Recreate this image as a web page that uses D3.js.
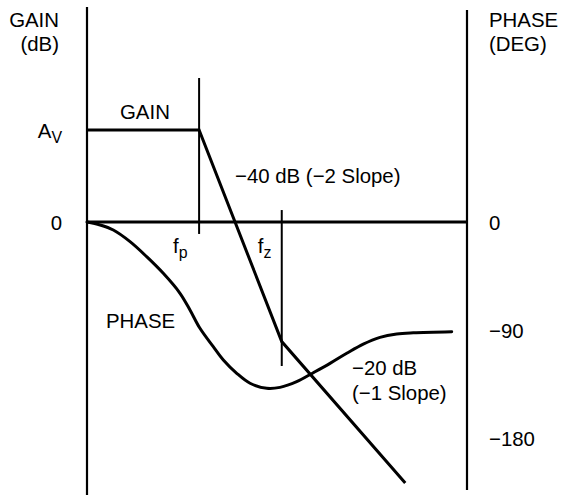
<!DOCTYPE html>
<html>
<head>
<meta charset="utf-8">
<script src="https://cdn.jsdelivr.net/npm/d3@7/dist/d3.min.js"></script>
<style>
  html, body { margin: 0; padding: 0; background: #fff; }
  svg text { font-family: "Liberation Sans", Arial, Helvetica, sans-serif; fill: #000; }
</style>
</head>
<body>
<svg id="chart" width="561" height="495"></svg>
<script>
// ---- Data (log10 frequency in decades, gain in dB, phase in degrees) ----
const AV = 40;                 // mid-band gain (dB), drawn as "A_V"
const fpDec = 1.18;            // pole frequency (decades)
const fzDec = 2.05;            // zero frequency (decades)

// Asymptotic gain curve
const gainFreq = [0, fpDec, fzDec, 3.35];
const gainDb   = [AV, AV, -52, -113.5];

// Phase curve
const phaseFreq = [0, 0.137, 0.277, 0.453, 0.628, 0.803, 0.979, 1.084, 1.189, 1.329, 1.435, 1.576,
                   1.716, 1.892, 2.032, 2.207, 2.382, 2.558, 2.734, 2.908, 3.084, 3.26, 3.435, 3.839];
const phaseDeg  = [0, -2.5, -6.7, -16.4, -28.9, -42.8, -59.4, -73.3, -88.6, -103.9, -115, -126.1,
                   -134.4, -138.6, -137.8, -133.1, -125.6, -117.8, -109.4, -101.7, -96.1, -93.3, -92.3, -91.4];

// Marker extents (dB) for the f_p and f_z tick lines
const fpMarkDb = [62.6, -5.2];
const fzMarkDb = [5.2, -62.6];

// Axis ticks
const gainTickVals   = [0, AV];
const gainTickLabels = ["0", "A_V"];
const phaseTickVals  = [0, -90, -180];
const phaseTickLabels = ["0", "\u221290", "\u2212180"];

// Axis extents
const freqDomain = [0, 4];
const gainAxisDb = [93.5, -120];
const phaseAxisDeg = [176.7, -223.3];

// ---- Scales ----
const svg = d3.select("#chart");
const x = d3.scaleLinear().domain(freqDomain).range([87, 467]);
const yG = d3.scaleLinear().domain([0, AV]).range([222, 130]);
const yP = d3.scaleLinear().domain([0, -180]).range([222, 438]);

const FS = 20.4;

// ---- Axes lines ----
svg.append("line")
  .attr("x1", x(freqDomain[0])).attr("x2", x(freqDomain[0]))
  .attr("y1", yG(gainAxisDb[0])).attr("y2", yG(gainAxisDb[1]))
  .attr("stroke", "#000").attr("stroke-width", 2.2);
svg.append("line")
  .attr("x1", x(freqDomain[1])).attr("x2", x(freqDomain[1]))
  .attr("y1", yP(phaseAxisDeg[0])).attr("y2", yP(phaseAxisDeg[1]))
  .attr("stroke", "#000").attr("stroke-width", 2.2);

// zero line
svg.append("line")
  .attr("x1", x(freqDomain[0])).attr("x2", x(freqDomain[1]))
  .attr("y1", yG(0)).attr("y2", yG(0))
  .attr("stroke", "#000").attr("stroke-width", 3);

// f_p and f_z marker lines
svg.append("line")
  .attr("x1", x(fpDec)).attr("x2", x(fpDec))
  .attr("y1", yG(fpMarkDb[0])).attr("y2", yG(fpMarkDb[1]))
  .attr("stroke", "#000").attr("stroke-width", 2);
svg.append("line")
  .attr("x1", x(fzDec)).attr("x2", x(fzDec))
  .attr("y1", yG(fzMarkDb[0])).attr("y2", yG(fzMarkDb[1]))
  .attr("stroke", "#000").attr("stroke-width", 2);

// ---- Gain curve ----
const gainPts = gainFreq.map((f, i) => [f, gainDb[i]]);
svg.append("path")
  .datum(gainPts)
  .attr("fill", "none").attr("stroke", "#000").attr("stroke-width", 3)
  .attr("stroke-linejoin", "miter")
  .attr("d", d3.line().x(d => x(d[0])).y(d => yG(d[1])));

// ---- Phase curve ----
const phasePts = phaseFreq.map((f, i) => [f, phaseDeg[i]]);
svg.append("path")
  .datum(phasePts)
  .attr("fill", "none").attr("stroke", "#000").attr("stroke-width", 3)
  .attr("stroke-linecap", "round")
  .attr("d", d3.line().x(d => x(d[0])).y(d => yP(d[1])).curve(d3.curveCatmullRom));

// ---- Tick labels ----
function subText(sel, label) {
  const parts = label.split("_");
  sel.append("tspan").text(parts[0]);
  if (parts.length > 1) {
    sel.append("tspan").attr("dy", 5).attr("font-size", FS * 0.78).text(parts[1]);
  }
}
gainTickVals.forEach((v, i) => {
  const t = svg.append("text")
    .attr("x", x(0) - 25).attr("y", yG(v) + 7.5)
    .attr("text-anchor", "end").attr("font-size", FS);
  subText(t, gainTickLabels[i]);
});
phaseTickVals.forEach((v, i) => {
  svg.append("text")
    .attr("x", x(4) + 22).attr("y", yP(v) + 8)
    .attr("font-size", FS).text(phaseTickLabels[i]);
});

// ---- Axis titles ----
svg.append("text").attr("x", 59).attr("y", 27).attr("text-anchor", "end").attr("font-size", FS).text("GAIN");
svg.append("text").attr("x", 59).attr("y", 51).attr("text-anchor", "end").attr("font-size", FS).text("(dB)");
svg.append("text").attr("x", x(4) + 22).attr("y", 27).attr("font-size", FS).text("PHASE");
svg.append("text").attr("x", x(4) + 22).attr("y", 51).attr("font-size", FS).text("(DEG)");

// ---- Annotations ----
svg.append("text").attr("x", 120).attr("y", 119).attr("font-size", FS).text("GAIN");
svg.append("text").attr("x", 235).attr("y", 183).attr("font-size", FS).text("\u221240 dB (\u22122 Slope)");
svg.append("text").attr("x", 106).attr("y", 328).attr("font-size", FS).text("PHASE");
svg.append("text").attr("x", 352).attr("y", 375).attr("font-size", FS).text("\u221220 dB");
svg.append("text").attr("x", 352).attr("y", 400).attr("font-size", FS).text("(\u22121 Slope)");

const fpT = svg.append("text").attr("x", x(fpDec) - 26).attr("y", 253).attr("font-size", FS);
subText(fpT, "f_p");
const fzT = svg.append("text").attr("x", x(fzDec) - 24).attr("y", 253).attr("font-size", FS);
subText(fzT, "f_z");
</script>
</body>
</html>
